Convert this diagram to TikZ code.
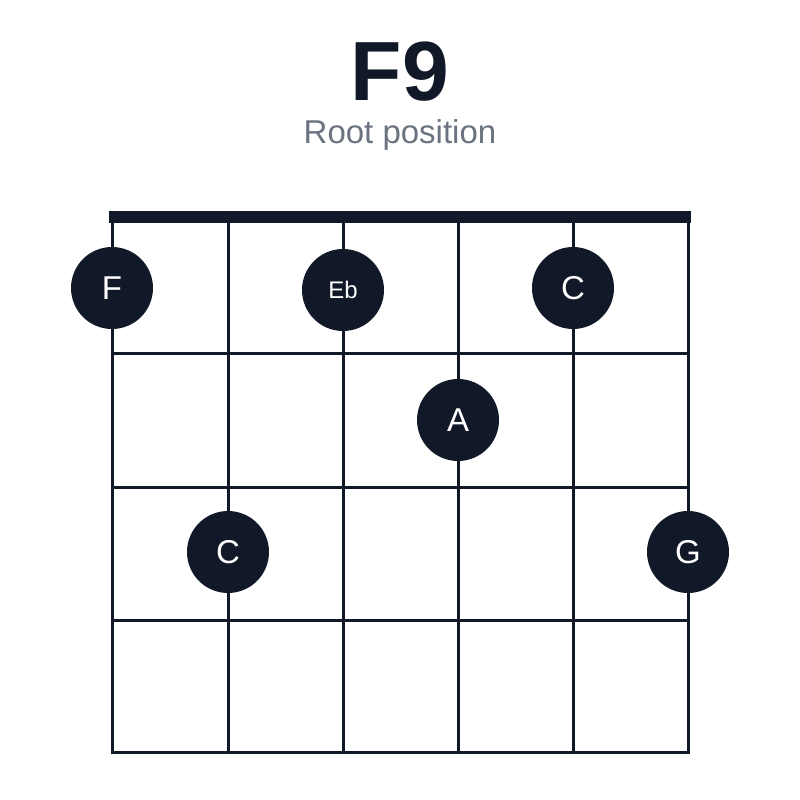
\documentclass[tikz,border=0pt]{standalone}
\usepackage{fontspec}
\setmainfont{Liberation Sans}
\definecolor{ink}{HTML}{111827}
\definecolor{sub}{HTML}{6B7280}
\begin{document}
\begin{tikzpicture}[x=1pt,y=-1pt,
  dot/.style={circle,fill=ink,minimum size=82pt,inner sep=0pt,text=white,font=\fontsize{33}{33}\selectfont},
  grid/.style={ink,line width=3pt}]
\useasboundingbox (0,0) rectangle (800,800);
\node[font=\bfseries\fontsize{84}{84}\selectfont,text=ink] (title) at (400,72) {F9};
\node[font=\fontsize{33}{33}\selectfont,text=sub] (subtitle) at (400,135) {Root position};
\foreach \x in {112,228,343,458,573,688} \draw[grid] (\x,217) -- (\x,752);
\foreach \y in {353,487,620,752} \draw[grid] (110.5,\y) -- (689.5,\y);
\draw[ink,line width=12pt] (109,217) -- (691,217);
\node[dot] (f) at (112,288) {F};
\node[dot,font=\fontsize{24}{24}\selectfont] (eb) at (343,290) {Eb};
\node[dot] (c1) at (573,288) {C};
\node[dot] (a) at (458,420) {A};
\node[dot] (c2) at (228,552) {C};
\node[dot] (g) at (688,552) {G};
\end{tikzpicture}
\end{document}
